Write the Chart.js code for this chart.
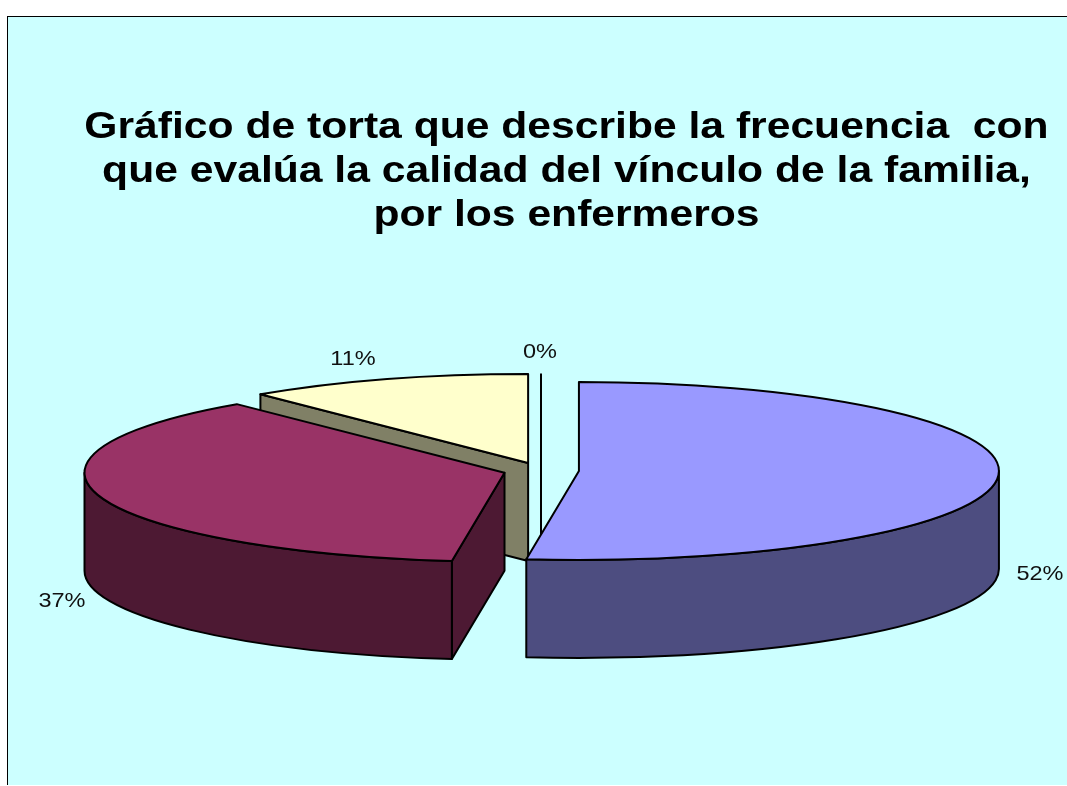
<!DOCTYPE html>
<html lang="es">
<head>
<meta charset="utf-8">
<style>
html,body{margin:0;padding:0;background:#fff;width:1067px;height:786px;overflow:hidden}
#panel{position:absolute;left:7px;top:16px;width:1059px;height:768px;background:#CCFFFF;border-left:1px solid #000;border-top:1px solid #000}
canvas{position:absolute;left:0;top:0}
</style>
</head>
<body>
<div id="panel"></div>
<canvas id="c" width="1067" height="786" style="width:1067px;height:786px"></canvas>
<script src="https://cdn.jsdelivr.net/npm/chart.js@4/dist/chart.umd.min.js"></script>
<script>
const titleLines = [
  'Gráfico de torta que describe la frecuencia  con',
  'que evalúa la calidad del vínculo de la familia,',
  'por los enfermeros'
];
const sliceLabels = ['52%', '37%', '11%', '0%'];
const sliceValues = [52, 37, 11, 0];
const topColors = ['#9999FF', '#993366', '#FFFFCC', '#CCFFFF'];
const wallColors = ['#4D4D80', '#4D1933', '#808066', '#666666'];

// 3D presentation settings
const TILT = 0.212, DEPTH = 98, EXPLODE = 38, RADIUS = 420, OUTLINE = 2;
const TITLE_CENTER_X = 566.5, TITLE_STRETCH = 1.168, LABEL_STRETCH = 1.12;
const labelAnchors = [[1040, 574], [62, 601], [353, 359], [540, 352]];

function pieCenterY(chart) {
  return (chart.chartArea.top + chart.chartArea.bottom) / 2;
}
function geom(chart, arc) {
  const C = pieCenterY(chart);
  return {x: arc.x, y: C + (arc.y - C) * TILT, r: arc.outerRadius, a0: arc.startAngle, a1: arc.endAngle};
}
function rimPoint(g, a) {
  return [g.x + g.r * Math.cos(a), g.y + g.r * TILT * Math.sin(a)];
}
function outerWall(ctx, g) {
  const from = Math.max(g.a0, 0), to = Math.min(g.a1, Math.PI);
  if (to <= from) return;
  ctx.beginPath();
  ctx.ellipse(g.x, g.y, g.r, g.r * TILT, 0, from, to);
  ctx.ellipse(g.x, g.y + DEPTH, g.r, g.r * TILT, 0, to, from, true);
  ctx.closePath();
  ctx.fill(); ctx.stroke();
}
function radialWall(ctx, g, a) {
  const p = rimPoint(g, a);
  ctx.beginPath();
  ctx.moveTo(g.x, g.y);
  ctx.lineTo(p[0], p[1]);
  ctx.lineTo(p[0], p[1] + DEPTH);
  ctx.lineTo(g.x, g.y + DEPTH);
  ctx.closePath();
  ctx.fill(); ctx.stroke();
}

const pie3d = {
  id: 'pie3d',
  afterDatasetsUpdate(chart) {
    chart.getDatasetMeta(0).data.forEach(arc => {
      const mid = (arc.startAngle + arc.endAngle) / 2;
      arc.x += Math.cos(mid) * EXPLODE;
      arc.y += Math.sin(mid) * EXPLODE;
    });
  },
  afterLayout(chart) {
    const t = chart.titleBlock;
    if (t._stretched) return;
    t._stretched = true;
    const draw = t.draw;
    t.draw = function () {
      const ctx = chart.ctx, mid = (t.left + t.right) / 2;
      ctx.save();
      ctx.translate(TITLE_CENTER_X, 0);
      ctx.scale(TITLE_STRETCH, 1);
      ctx.translate(-mid, 0);
      draw.apply(t, arguments);
      ctx.restore();
    };
  },
  beforeDatasetsDraw(chart) {
    const ctx = chart.ctx, arcs = chart.getDatasetMeta(0).data;
    ctx.save();
    ctx.strokeStyle = '#000';
    ctx.lineWidth = OUTLINE;
    ctx.lineJoin = 'round';
    for (let i = arcs.length - 1; i >= 0; i--) {
      const g = geom(chart, arcs[i]);
      ctx.fillStyle = wallColors[i];
      if (g.a1 - g.a0 === 0) {
        const p = rimPoint(g, g.a0);
        ctx.beginPath();
        ctx.moveTo(p[0], p[1]);
        ctx.lineTo(g.x, g.y + DEPTH);
        ctx.stroke();
        continue;
      }
      if (Math.sin(g.a0 - Math.PI / 2) > 1e-6) radialWall(ctx, g, g.a0);
      if (Math.sin(g.a1 + Math.PI / 2) > 1e-6) radialWall(ctx, g, g.a1);
      outerWall(ctx, g);
    }
    ctx.restore();
    // squash the library's arcs into the tilted plane
    const C = pieCenterY(chart);
    ctx.save();
    ctx.translate(0, C);
    ctx.scale(1, TILT);
    ctx.translate(0, -C);
  },
  afterDatasetsDraw(chart) {
    const ctx = chart.ctx, arcs = chart.getDatasetMeta(0).data;
    ctx.restore();
    ctx.save();
    ctx.strokeStyle = '#000';
    ctx.lineWidth = OUTLINE;
    ctx.lineJoin = 'round';
    arcs.forEach(arc => {
      const g = geom(chart, arc);
      if (g.a1 - g.a0 === 0) return;
      ctx.beginPath();
      ctx.moveTo(g.x, g.y);
      ctx.ellipse(g.x, g.y, g.r, g.r * TILT, 0, g.a0, g.a1);
      ctx.closePath();
      ctx.stroke();
    });
    ctx.fillStyle = '#111';
    ctx.font = '21px "Liberation Sans", Arial, sans-serif';
    ctx.textAlign = 'center';
    ctx.textBaseline = 'middle';
    sliceLabels.forEach((s, i) => {
      ctx.save();
      ctx.translate(labelAnchors[i][0], labelAnchors[i][1]);
      ctx.scale(LABEL_STRETCH, 1);
      ctx.fillText(s, 0, 0);
      ctx.restore();
    });
    ctx.restore();
  }
};

new Chart(document.getElementById('c'), {
  type: 'pie',
  plugins: [pie3d],
  data: {
    labels: sliceLabels,
    datasets: [{
      data: sliceValues,
      backgroundColor: topColors,
      borderWidth: 0,
      clip: false
    }]
  },
  options: {
    responsive: false,
    animation: false,
    radius: RADIUS,
    layout: {padding: {left: 15, right: 0, top: 0, bottom: 83}},
    plugins: {
      legend: {display: false},
      tooltip: {enabled: false},
      title: {
        display: true,
        text: titleLines,
        color: '#000',
        padding: {top: 106, bottom: 0},
        font: {family: '"Liberation Sans", Arial, sans-serif', size: 36.5, weight: 'bold', lineHeight: 44 / 36.5}
      }
    }
  }
});
</script>
</body>
</html>
